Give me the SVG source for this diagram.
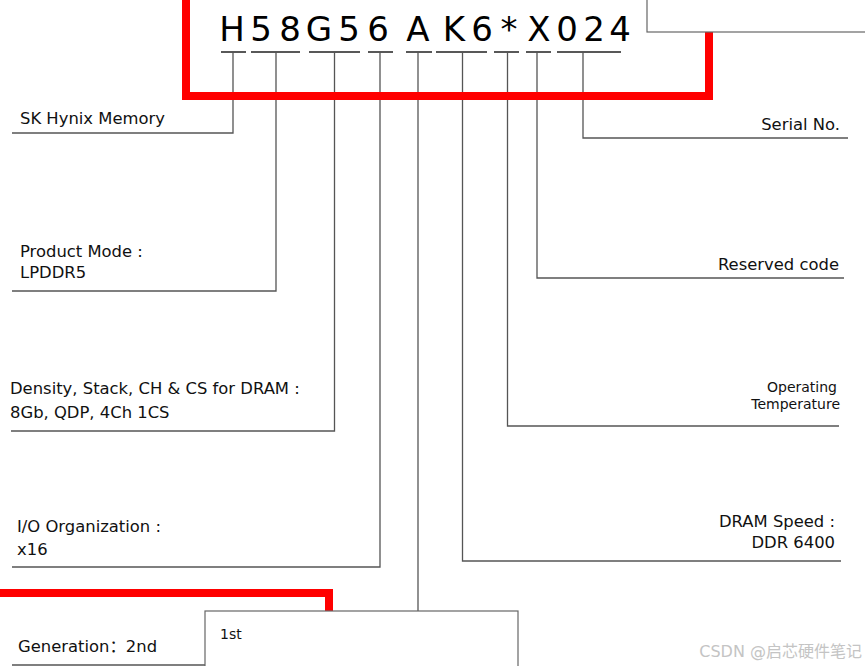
<svg xmlns="http://www.w3.org/2000/svg" width="865" height="666" viewBox="0 0 865 666">
<style>
.t{font-family:"DejaVu Sans","Noto Sans CJK SC",sans-serif;font-size:16.4px;fill:#111}
.s{font-size:14px}
.big{font-family:"DejaVu Sans",sans-serif;font-size:34px;fill:#000;text-anchor:middle}
.r{text-anchor:end}
.ul{stroke:#222;stroke-width:1.6;fill:none}
.ln{stroke:#555;stroke-width:1.3;fill:none}
.red{stroke:#ff0000;stroke-width:8;fill:none}
.box{fill:#fff;stroke:#666;stroke-width:1.2}
</style>
<rect width="865" height="666" fill="#fff"/>
<g id="part-number">
<text class="big" x="232" y="41">H</text>
<text class="big" x="261" y="41">5</text>
<text class="big" x="290" y="41">8</text>
<text class="big" x="319" y="41">G</text>
<text class="big" x="349" y="41">5</text>
<text class="big" x="378" y="41">6</text>
<text class="big" x="418" y="41">A</text>
<text class="big" x="454" y="41">K</text>
<text class="big" x="482" y="41">6</text>
<text class="big" x="509" y="41">*</text>
<text class="big" x="539" y="41">X</text>
<text class="big" x="567" y="41">0</text>
<text class="big" x="594" y="41">2</text>
<text class="big" x="620" y="41">4</text>
<path class="ul" d="M221 52H246M251 52H300M309 52H360M368 52H393M406 52H432M436 52H487M494 52H519M526 52H551M557 52H621"/>
</g>
<g id="connectors">
<path class="ln" d="M233 52V133H12"/>
<path class="ln" d="M276 52V291H12"/>
<path class="ln" d="M334.5 52V431H11"/>
<path class="ln" d="M380 52V567H12"/>
<path class="ln" d="M418 52V611"/>
<path class="ln" d="M462.5 52V561H841"/>
<path class="ln" d="M507.5 52V426H839"/>
<path class="ln" d="M537 52V278H844"/>
<path class="ln" d="M583 52V138H848"/>
<path class="ln" d="M12 665H205"/>
</g>
<g id="red-frames">
<path class="red" d="M186 -5V96H709V30"/>
<path class="red" d="M-5 593H329V614"/>
</g>
<g id="box-top"><rect class="box" x="647" y="-5" width="230" height="37"/></g>
<g id="box-bottom"><rect class="box" x="205" y="611" width="313" height="62"/><text class="t s" x="220" y="639">1st</text></g>
<g id="sk-hynix"><text class="t" x="20" y="124">SK Hynix Memory</text></g>
<g id="product-mode"><text class="t" x="20" y="257">Product Mode :</text><text class="t" x="20" y="278">LPDDR5</text></g>
<g id="density"><text class="t" x="10" y="394">Density, Stack, CH &amp; CS for DRAM :</text><text class="t" x="10" y="418">8Gb, QDP, 4Ch 1CS</text></g>
<g id="io-org"><text class="t" x="17" y="532">I/O Organization :</text><text class="t" x="17" y="555">x16</text></g>
<g id="generation"><text class="t" x="18" y="652">Generation：2nd</text></g>
<g id="serial"><text class="t r" x="840" y="130">Serial No.</text></g>
<g id="reserved"><text class="t r" x="839" y="270">Reserved code</text></g>
<g id="temp"><text class="t s r" x="837" y="392">Operating</text><text class="t s r" x="840" y="409">Temperature</text></g>
<g id="speed"><text class="t r" x="835" y="527">DRAM Speed :</text><text class="t r" x="835" y="548">DDR 6400</text></g>
<text x="862" y="657" text-anchor="end" font-family="'DejaVu Sans','Noto Sans CJK SC',sans-serif" font-size="16" fill="#c4c4c4">CSDN @启芯硬件笔记</text>
</svg>
